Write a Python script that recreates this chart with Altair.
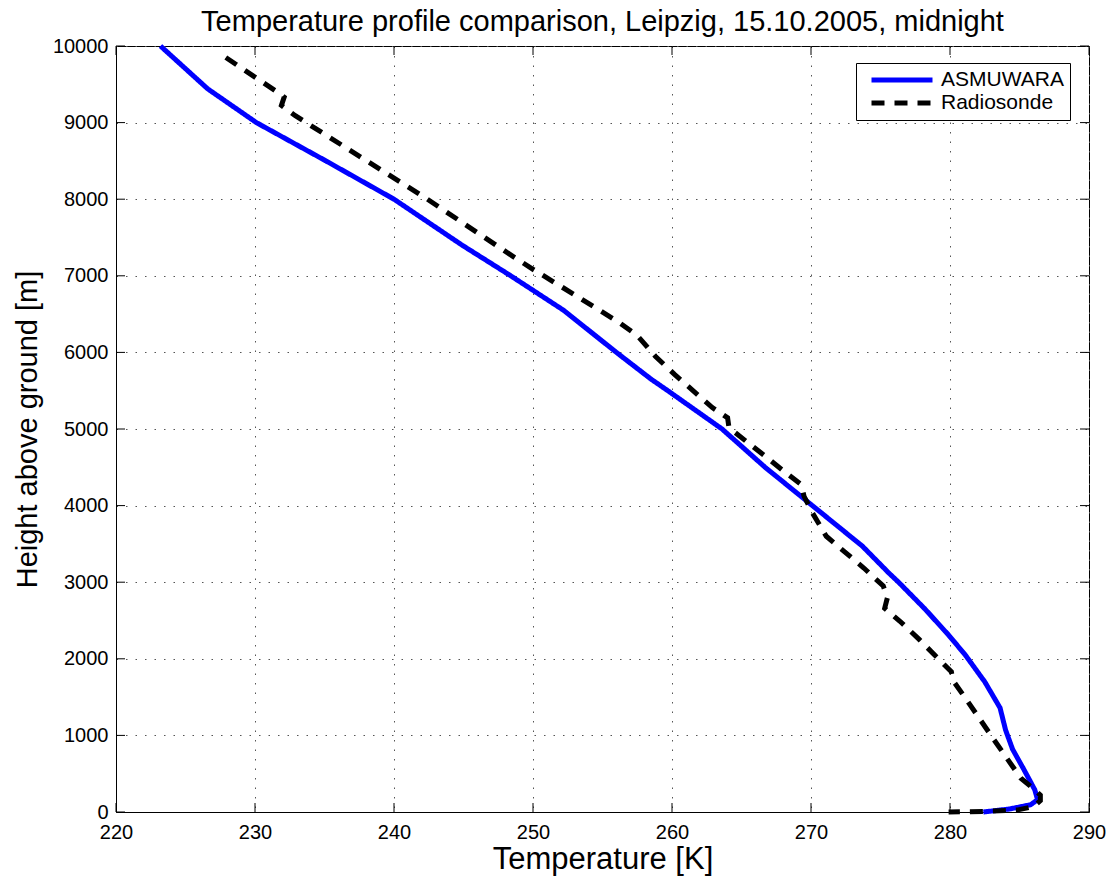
import altair as alt
import pandas as pd

# ---- data ----
asm_T = [223.2, 226.6, 230.1, 235.1, 240.0, 244.9, 248.4, 252.2, 256.0, 258.5, 259.7,
         263.6, 266.7, 270.1, 273.7, 275.6, 276.3, 278.2, 279.9, 281.1, 282.5, 283.6,
         284.0, 284.5, 285.3, 286.1, 286.3, 285.8, 284.3, 282.4]
asm_H = [10000, 9440, 9000, 8500, 8000, 7400, 7000, 6550, 6000, 5650, 5500,
         5000, 4500, 4000, 3470, 3120, 3000, 2650, 2310, 2050, 1700, 1360,
         1070, 820, 560, 290, 160, 95, 40, 0]

rs_T = [227.9, 231.8, 232.1, 231.9, 232.9, 242.4, 248.5, 250.0, 253.1, 256.2, 257.5,
        258.8, 260.2, 262.9, 264.0, 264.1, 266.7, 268.2, 269.3, 269.5, 270.1, 271.1,
        272.4, 273.8, 275.2, 275.5, 275.3, 276.4, 277.8, 279.0, 280.1, 280.2, 281.1,
        283.1, 285.1, 286.1, 286.5, 286.5, 286.0, 284.8, 282.5, 279.9]
rs_H = [9850, 9375, 9333, 9224, 9090, 8000, 7260, 7085, 6740, 6390, 6220,
        5950, 5710, 5280, 5146, 5016, 4645, 4427, 4275, 4122, 3905, 3600,
        3400, 3185, 2950, 2800, 2660, 2490, 2250, 2030, 1830, 1720, 1490,
        960, 440, 290, 220, 150, 70, 25, 8, 0]

series_names = ["ASMUWARA", "Radiosonde"]
series_colors = ["#0000ff", "#000000"]
series_dash = [[1, 0], [13, 10]]

x_ticks = [220, 230, 240, 250, 260, 270, 280, 290]
y_ticks = [0, 1000, 2000, 3000, 4000, 5000, 6000, 7000, 8000, 9000, 10000]

title_text = "Temperature profile comparison, Leipzig, 15.10.2005, midnight"
x_title = "Temperature [K]"
y_title = "Height above ground [m]"

# ---- build table ----
rows = []
for i, (t, h) in enumerate(zip(asm_T, asm_H)):
    rows.append({"series": series_names[0], "T": t, "H": h, "order": i})
for i, (t, h) in enumerate(zip(rs_T, rs_H)):
    rows.append({"series": series_names[1], "T": t, "H": h, "order": i})
df = pd.DataFrame(rows)

W, H = 973, 766
FONT = "Liberation Sans"
TL = 9  # inner tick length

xs = alt.Scale(domain=[220, 290], nice=False, zero=False)
ys = alt.Scale(domain=[0, 10000], nice=False, zero=False)

x_axis = alt.Axis(values=x_ticks, title=x_title, grid=True, ticks=False, format="d",
                  labelPadding=10, titlePadding=2, labelFlush=False, labelOverlap=False,
                  titleFontSize=31)
y_axis = alt.Axis(values=y_ticks, title=y_title, grid=True, ticks=False, format="d",
                  labelPadding=8, titlePadding=10, labelFlush=False, labelOverlap=False,
                  titleFontSize=29)

leg = alt.Legend(
    title=None, orient="none", legendX=740, legendY=17,
    fillColor="white", strokeColor="black", padding=6,
    symbolType="stroke", symbolSize=3721, symbolStrokeWidth=5,
    symbolOffset=7, clipHeight=22, rowPadding=1, labelOffset=6,
    labelFont=FONT, labelFontSize=21, labelColor="black",
)

lines = alt.Chart(df).mark_line(strokeCap="butt", strokeWidth=5).encode(
    x=alt.X("T:Q", scale=xs, axis=x_axis),
    y=alt.Y("H:Q", scale=ys, axis=y_axis),
    color=alt.Color("series:N", scale=alt.Scale(domain=series_names, range=series_colors), legend=leg),
    strokeDash=alt.StrokeDash("series:N", scale=alt.Scale(domain=series_names, range=series_dash), legend=leg),
    order="order:Q",
)

xt = pd.DataFrame({"T": x_ticks})
yt = pd.DataFrame({"H": y_ticks})

bottom_ticks = alt.Chart(xt).mark_rule(color="black", strokeWidth=1).encode(
    x=alt.X("T:Q", scale=xs, axis=x_axis), y=alt.value(H), y2=alt.value(H - TL))
top_ticks = alt.Chart(xt).mark_rule(color="black", strokeWidth=1).encode(
    x=alt.X("T:Q", scale=xs, axis=x_axis), y=alt.value(0), y2=alt.value(TL))
left_ticks = alt.Chart(yt).mark_rule(color="black", strokeWidth=1).encode(
    y=alt.Y("H:Q", scale=ys, axis=y_axis), x=alt.value(0), x2=alt.value(TL))
right_ticks = alt.Chart(yt).mark_rule(color="black", strokeWidth=1).encode(
    y=alt.Y("H:Q", scale=ys, axis=y_axis), x=alt.value(W - TL), x2=alt.value(W))

chart = alt.layer(lines, bottom_ticks, top_ticks, left_ticks, right_ticks).properties(
    width=W, height=H,
    title=alt.Title(title_text, font=FONT, fontSize=29, fontWeight="normal",
                    color="black", anchor="middle", offset=10, dy=11),
    autosize=alt.AutoSizeParams(type="none"),
    padding={"left": 116, "top": 46, "right": 22, "bottom": 72},
    background="white",
).configure_view(
    stroke="black", strokeWidth=1
).configure_axis(
    labelFont=FONT, labelFontSize=20, labelColor="black",
    titleFont=FONT, titleFontWeight="normal", titleColor="black",
    domainColor="black", domainWidth=1,
    gridColor="#555555", gridDash=[1.5, 8], gridWidth=1, gridOpacity=1,
)

chart.save("out.html", embed_options={"renderer": "svg", "actions": False})
